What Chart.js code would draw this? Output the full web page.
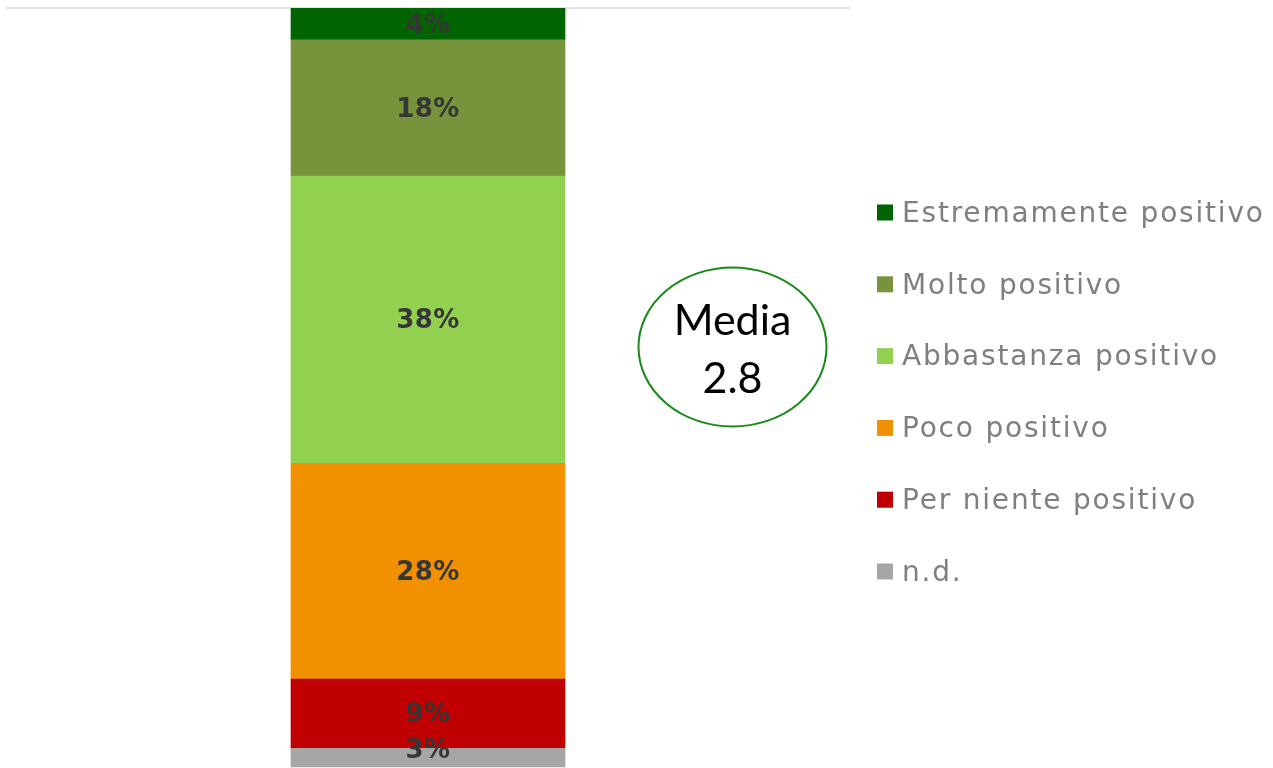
<!DOCTYPE html>
<html>
<head>
<meta charset="utf-8">
<script src="https://cdn.jsdelivr.net/npm/chart.js@4.4.0/dist/chart.umd.min.js"></script>
<style>
  html, body { margin: 0; padding: 0; background: #fff; }
  #wrap { width: 1273px; height: 768px; }
</style>
</head>
<body>
<div id="wrap"><canvas id="chart"></canvas></div>
<script>
// categories, bottom to top of the stack
var categories = ["n.d.", "Per niente positivo", "Poco positivo", "Abbastanza positivo", "Molto positivo", "Estremamente positivo"];
var values = [2.6, 9.1, 28.4, 37.8, 17.9, 4.2];
var shownLabels = ["3%", "9%", "28%", "38%", "18%", "4%"];
var colors = ["#A6A6A6", "#C00000", "#F29100", "#92D050", "#77933C", "#006400"];
var mediaText = ["Media", "2.8"];

var datasets = categories.map(function (c, i) {
	return {
		label: c,
		data: [values[i]],
		backgroundColor: colors[i],
		borderWidth: 0,
		barThickness: 274
	};
});

// value labels in the middle of each segment
var segmentLabels = {
	id: "segmentLabels",
	afterDatasetsDraw: function (chart) {
		var ctx = chart.ctx;
		ctx.save();
		ctx.font = "bold 26px 'DejaVu Sans'";
		ctx.letterSpacing = "0.5px";
		ctx.fillStyle = "#363636";
		ctx.textAlign = "center";
		ctx.textBaseline = "middle";
		chart.data.datasets.forEach(function (ds, i) {
			var bar = chart.getDatasetMeta(i).data[0];
			var y = (bar.y + bar.base) / 2 + 2;
			if (i === 0) y -= 8;
			ctx.fillText(shownLabels[i], bar.x, y);
		});
		ctx.restore();
	}
};

// legend on the right, top item first
var sideLegend = {
	id: "sideLegend",
	afterDraw: function (chart) {
		var ctx = chart.ctx;
		var area = chart.chartArea;
		var n = categories.length;
		var step = 71.8;
		var y0 = (area.top + area.bottom) / 2 + 4 - step * (n - 1) / 2;
		ctx.save();
		ctx.font = "28px 'DejaVu Sans'";
		ctx.letterSpacing = "1.8px";
		ctx.textBaseline = "middle";
		ctx.textAlign = "left";
		for (var k = 0; k < n; k++) {
			var i = n - 1 - k;
			var y = y0 + k * step;
			ctx.fillStyle = colors[i];
			ctx.fillRect(877, y - 8, 16, 16);
			ctx.fillStyle = "#7F7F7F";
			ctx.fillText(categories[i], 902, y + 2);
		}
		ctx.restore();
	}
};

// the "Media" bubble
var mediaBubble = {
	id: "mediaBubble",
	afterDraw: function (chart) {
		var ctx = chart.ctx;
		ctx.save();
		ctx.beginPath();
		ctx.ellipse(732.5, 347, 94, 79.5, 0, 0, Math.PI * 2);
		ctx.fillStyle = "#fff";
		ctx.fill();
		ctx.lineWidth = 2;
		ctx.strokeStyle = "#178A17";
		ctx.stroke();
		ctx.fillStyle = "#000";
		ctx.font = "43px 'Lato'";
		ctx.textAlign = "center";
		ctx.textBaseline = "middle";
		ctx.fillText(mediaText[0], 732.5, 321);
		ctx.fillText(mediaText[1], 732.5, 379);
		ctx.restore();
	}
};

new Chart(document.getElementById("chart"), {
	type: "bar",
	data: { labels: [""], datasets: datasets },
	options: {
		responsive: true,
		maintainAspectRatio: false,
		animation: false,
		layout: { padding: { left: 6, right: 423, top: 8, bottom: 0 } },
		plugins: {
			legend: { display: false },
			tooltip: { enabled: false }
		},
		scales: {
			x: { stacked: true, display: false },
			y: {
				stacked: true,
				min: 0,
				max: 100,
				ticks: { display: false, stepSize: 100 },
				border: { display: false },
				grid: {
					drawTicks: false,
					lineWidth: 2,
					color: function (c) { return c.tick && c.tick.value === 100 ? "#E3E3E3" : "rgba(0,0,0,0)"; }
				}
			}
		}
	},
	plugins: [segmentLabels, sideLegend, mediaBubble]
});
</script>
</body>
</html>
